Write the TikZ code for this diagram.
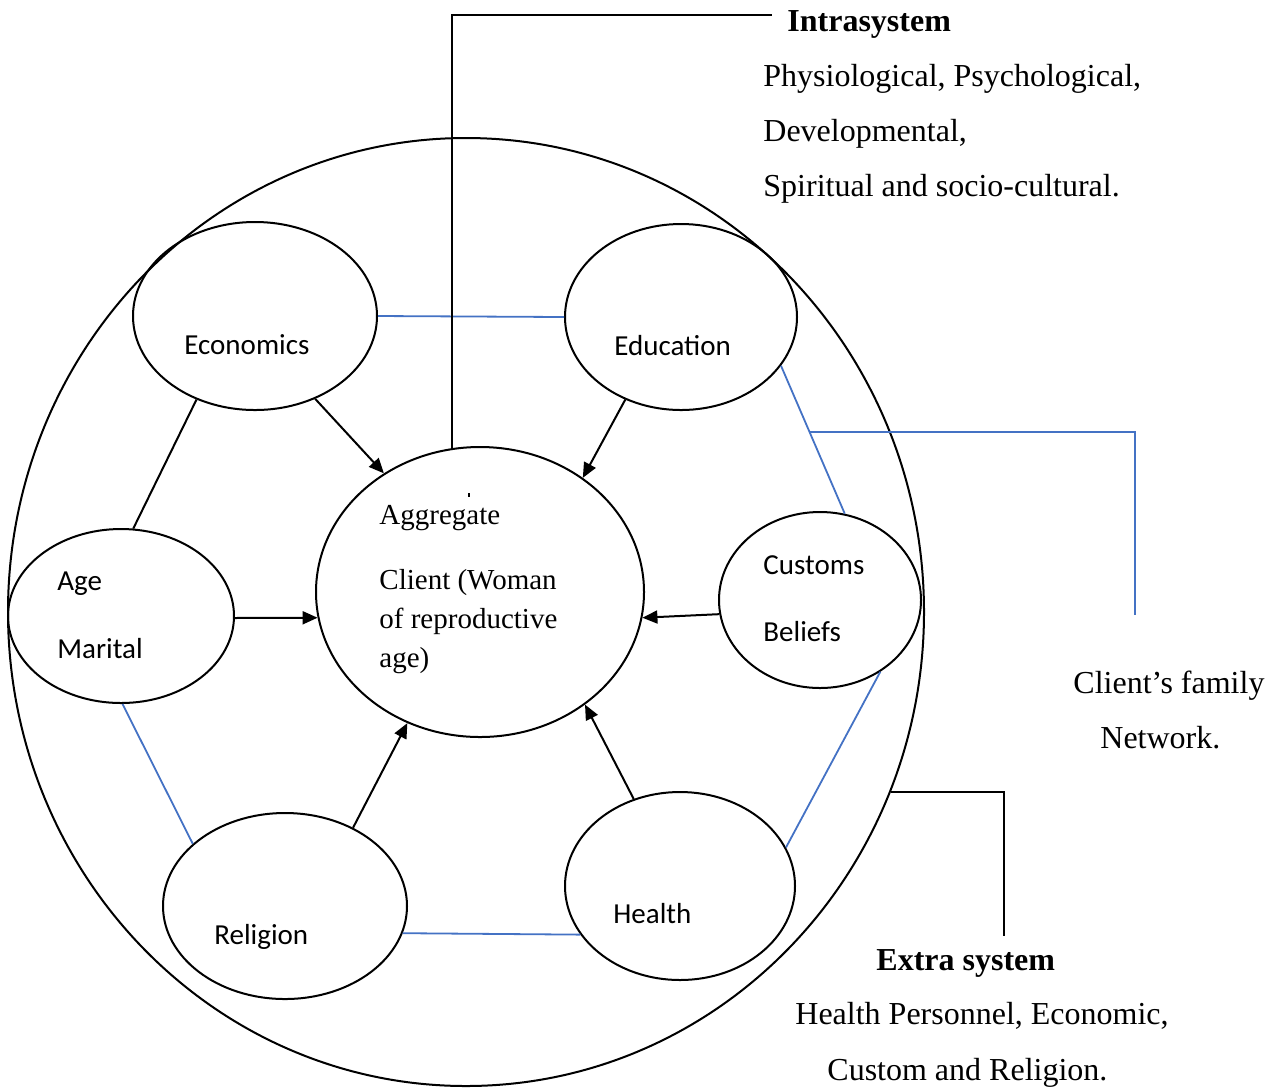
\documentclass[tikz,border=0pt]{standalone}
\usepackage{fontspec}
\setmainfont{Liberation Serif}
\newfontfamily\calibrifont{Carlito}
\usetikzlibrary{shapes.geometric,arrows.meta,calc}
\definecolor{wordblue}{RGB}{68,114,196}
\begin{document}
\begin{tikzpicture}[x=0.5pt,y=-0.5pt,
  oval/.style={draw,ellipse,line width=1pt,inner sep=0pt},
  blk/.style={line width=1pt},
  blu/.style={line width=0.9pt,draw=wordblue},
  arr/.style={line width=1pt,-{Triangle[length=7.5pt,width=6.5pt]}},
  stxt/.style={font=\calibrifont\fontsize{14.5}{17}\selectfont,anchor=base west,inner sep=0pt},
  ctxt/.style={font=\fontsize{14.5}{17}\selectfont,anchor=base west,inner sep=0pt},
  atxt/.style={font=\fontsize{16}{19}\selectfont,anchor=base west,inner sep=0pt},
]
\useasboundingbox (0,0) rectangle (1278,1089);
% ellipses
\node[oval,minimum width=458pt,minimum height=474pt] (outer) at (466,612) {};
\node[oval,minimum width=164pt,minimum height=145pt] (center) at (480,592) {};
\node[oval,minimum width=122pt,minimum height=94pt] (econ) at (255,316) {};
\node[oval,minimum width=116pt,minimum height=93pt] (edu) at (681,317) {};
\node[oval,minimum width=113pt,minimum height=87pt] (age) at (121,616) {};
\node[oval,minimum width=101pt,minimum height=88pt] (cust) at (820,600) {};
\node[oval,minimum width=122pt,minimum height=93pt] (rel) at (285,906) {};
\node[oval,minimum width=115pt,minimum height=94pt] (health) at (680,886) {};
% labels in ellipses
\node[stxt] (teco) at (184,354) {Economics};
\node[stxt] (tedu) at (614,355) {Education};
\node[stxt] (tage) at (57,590) {Age};
\node[stxt] (tmar) at (57,658) {Marital};
\node[stxt] (tcus) at (763,574) {Customs};
\node[stxt] (tbel) at (763,641) {Beliefs};
\node[stxt] (trel) at (214,944) {Religion};
\node[stxt] (thea) at (613,923) {Health};
\node[ctxt] (tagg) at (379,524) {Aggregate};
\node[ctxt] (tcl1) at (379,589) {Client (Woman};
\node[ctxt] (tcl2) at (379,628) {of reproductive};
\node[ctxt] (tcl3) at (379,667) {age)};
\draw[line width=1pt] (469,493) -- (469,497);
% arrows
\draw[arr] (econ.-54) -- (center.129);
\draw[arr] (edu.-124) -- (center.48);
\draw[arr] (age.-1) -- (center.-171);
\draw[arr] (cust.-172) -- (center.-9);
\draw[arr] (rel.49) -- (center.-119);
\draw[arr] (health.118) -- (center.-47);
% plain links
\draw[blk] (econ.-125) -- (age.82);
\draw[blu] (econ.0) -- (edu.180);
\draw[blu] (edu.-26) -- (cust.74);
\draw[blu] (cust.-50) -- (health.20);
\draw[blu] (health.-154) -- (rel.-13);
\draw[blu] (rel.146) -- (age.-89);
% callouts
\coordinate (intraend) at (772,15);
\draw[blk] (center.101) |- (intraend);
\coordinate (famstart) at ($(edu.-26)!0.446!(cust.74)$);
\coordinate (famend) at (1135,615);
\draw[blu] (famstart) -| (famend);
\coordinate (extraend) at (1004,936);
\draw[blk] (outer.-23) -| (extraend);
% annotation texts
\node[atxt,font=\bfseries\fontsize{16}{19}\selectfont] (intra) at (787,31) {Intrasystem};
\node[atxt] (intra1) at (763,86) {Physiological, Psychological,};
\node[atxt] (intra2) at (763,141) {Developmental,};
\node[atxt] (intra3) at (763,196) {Spiritual and socio-cultural.};
\node[atxt] (fam1) at (1073,693) {Client’s family};
\node[atxt] (fam2) at (1100,748) {Network.};
\node[atxt,font=\bfseries\fontsize{16}{19}\selectfont] (extra) at (876,970) {Extra system};
\node[atxt] (extra1) at (795,1024) {Health Personnel, Economic,};
\node[atxt] (extra2) at (827,1080) {Custom and Religion.};
\end{tikzpicture}
\end{document}
